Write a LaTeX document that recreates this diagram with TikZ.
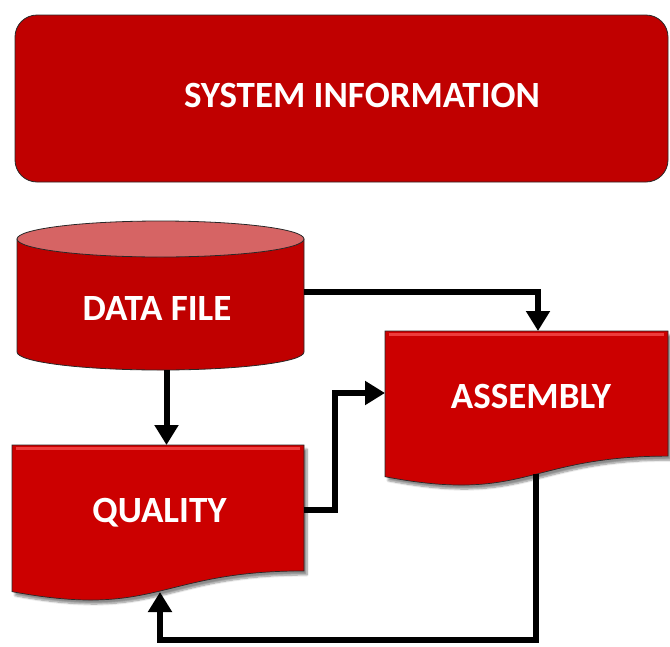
\documentclass[tikz,border=0pt]{standalone}
\usepackage{fontspec}
\setmainfont{Carlito}
\usetikzlibrary{arrows.meta,shadows.blur}

\definecolor{boxred}{RGB}{192,0,0}
\definecolor{docred}{RGB}{204,0,0}
\definecolor{lidred}{RGB}{214,100,100}
\definecolor{edgegray}{RGB}{40,40,40}
\definecolor{bevellight}{RGB}{238,60,60}

% flowchart "document" outline: left, top, width, height, style
\newcommand\docshape[5]{%
  \path[#5] (#1,#2) -- ++(#3,0) -- ++(0,{0.802*#4})
    .. controls +({-0.5*#3},0) and +({0.5*#3},{0.1735*#4}) .. ({#1},{#2+0.934*#4})
    -- cycle;
  % light bevel along the top edge
  \draw[bevellight, line width=3pt, line cap=butt]
    ({#1+4},{#2+3}) -- ({#1+#3-4},{#2+3});}

\tikzset{
  anchorbox/.style={draw=none, fill=none, inner sep=0pt, outer sep=0pt},
  sysbox/.style={anchorbox, fill=boxred, draw=edgegray, line width=0.8pt,
    rounded corners=22pt},
  docfill/.style={fill=docred, draw=edgegray, line width=0.7pt,
    blur shadow={shadow xshift=3pt, shadow yshift=-4pt, shadow blur steps=8,
      shadow opacity=45}},
  cylfill/.style={fill=boxred, draw=edgegray, line width=0.8pt},
  lidfill/.style={fill=lidred, draw=edgegray, line width=0.8pt},
  lbl/.style={text=white, font=\bfseries\fontsize{37}{42}\selectfont,
    inner sep=0pt, text depth=0pt},
  flow/.style={line width=6pt, draw=black, line join=miter,
    -{Triangle[width=23pt,length=20pt]}}
}

\begin{document}
\begin{tikzpicture}[x=1pt,y=-1pt]
\useasboundingbox (0,0) rectangle (670,646);

% header banner
\node[sysbox, minimum width=653pt, minimum height=167pt] (sys) at (341.5,98.5) {};

% data store drawn as a cylinder
\path[cylfill] (17,239) -- (17,352)
  .. controls (17,361.9) and (81.2,370) .. (160.5,370)
  .. controls (239.8,370) and (304,361.9) .. (304,352)
  -- (304,239) -- cycle;
\path[lidfill] (160.5,239) ellipse [x radius=143.5pt, y radius=18pt];
\node[anchorbox, minimum width=287pt, minimum height=149pt] (data) at (160.5,295.5) {};

% document shapes
\docshape{12}{445}{292}{157}{docfill}
\node[anchorbox, minimum width=292pt, minimum height=147pt] (qual) at (158,518.5) {};

\docshape{385}{331}{283}{156}{docfill}
\node[anchorbox, minimum width=283pt, minimum height=146pt] (asm) at (526.5,404) {};

% connector end points
\coordinate (dout) at ([yshift=3.5pt]data.east);
\coordinate (atop) at ([xshift=11.5pt]asm.north);
\coordinate (ddown) at ([xshift=6pt]data.south);
\coordinate (qout) at ([yshift=8.5pt]qual.east);
\coordinate (ain) at ([yshift=11pt]asm.west);
\coordinate (aout) at ([xshift=9pt,yshift=3.5pt]asm.south);
\coordinate (qin) at ([xshift=2pt]qual.south);
\coordinate (floor) at (0,640);

% connectors
\draw[flow] (dout) -| (atop);
\draw[flow] (ddown) -- (ddown |- qual.north);
\draw[flow] (qout) -- ++(31,0) |- (ain);
\draw[flow] (aout) -- (aout |- floor) -| (qin);

% labels
\node[lbl] (systxt) at (362,95) {SYSTEM INFORMATION};
\node[lbl] (datatxt) at (157,308) {DATA FILE};
\node[lbl] (qualtxt) at (159.5,510) {QUALITY};
\node[lbl] (asmtxt) at (531,396.5) {ASSEMBLY};
\end{tikzpicture}
\end{document}
